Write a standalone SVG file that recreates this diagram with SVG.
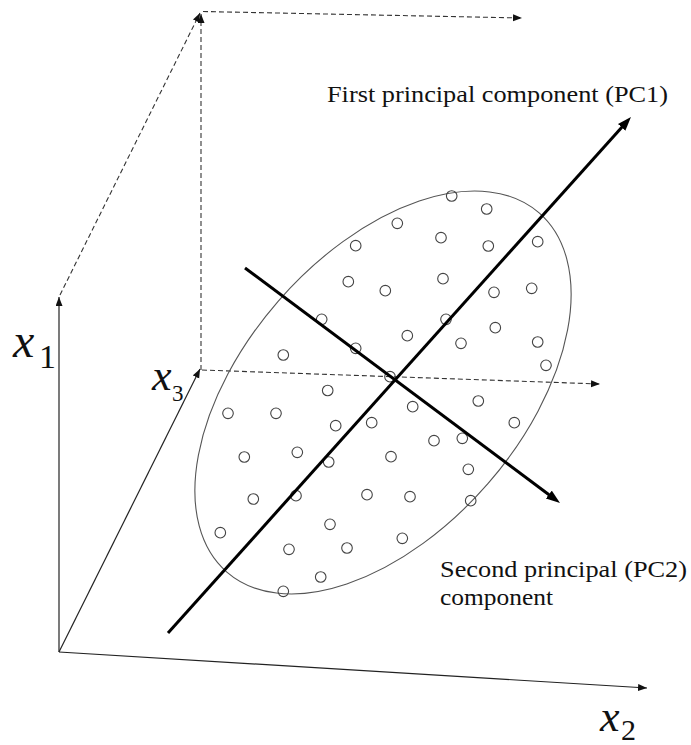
<svg xmlns="http://www.w3.org/2000/svg" width="691" height="745" viewBox="0 0 691 745">
<style>
.axis{stroke:#222;stroke-width:1.2;fill:none}
.dash{stroke:#333;stroke-width:1.1;fill:none;stroke-dasharray:5 3}
.pc{stroke:#000;stroke-width:3;fill:none}
.pt{stroke:#444;stroke-width:1.1;fill:none}
.ell{stroke:#555;stroke-width:1.1;fill:none}
text{font-family:'Liberation Serif','Times New Roman',Times,serif;fill:#111}
.lbl{font-size:22.5px}
.var{font-style:italic}
</style>
<defs>
<marker id="ah" markerUnits="userSpaceOnUse" markerWidth="10" markerHeight="8" refX="9" refY="3.5" orient="auto"><path d="M0,0 L9,3.5 L0,7 z" fill="#111"/></marker>
<marker id="big" markerUnits="userSpaceOnUse" markerWidth="16" markerHeight="12" refX="4" refY="5" orient="auto"><path d="M0,0 L14,5 L0,10 z" fill="#000"/></marker>
</defs>
<rect width="691" height="745" fill="#fff"/>
<g id="connectors">
<line id="axis-x1" class="axis" x1="59" y1="652" x2="59" y2="297" marker-end="url(#ah)"/>
<line id="axis-x2" class="axis" x1="59" y1="652" x2="647" y2="688" marker-end="url(#ah)"/>
<line id="axis-x3" class="axis" x1="59" y1="652" x2="200" y2="369" marker-end="url(#ah)"/>
<line class="dash" x1="60" y1="295" x2="200" y2="13" marker-end="url(#ah)"/>
<line class="dash" x1="201" y1="370" x2="201" y2="14" marker-end="url(#ah)"/>
<line class="dash" x1="203" y1="11.5" x2="522" y2="18" marker-end="url(#ah)"/>
<line class="dash" x1="202" y1="370" x2="600" y2="384" marker-end="url(#ah)"/>
</g>
<g id="cluster">
<ellipse class="ell" cx="383" cy="392.5" rx="238" ry="139" transform="rotate(-49 383 392.5)"/>
<g id="points">
<circle class="pt" cx="355.7" cy="245.7" r="5.3"/>
<circle class="pt" cx="348.3" cy="281.7" r="5.3"/>
<circle class="pt" cx="321.7" cy="319.3" r="5.3"/>
<circle class="pt" cx="355.7" cy="348.3" r="5.3"/>
<circle class="pt" cx="283.3" cy="355" r="5.3"/>
<circle class="pt" cx="327.7" cy="390.5" r="5.3"/>
<circle class="pt" cx="451.7" cy="196" r="5.3"/>
<circle class="pt" cx="486.7" cy="209" r="5.3"/>
<circle class="pt" cx="397.3" cy="223.3" r="5.3"/>
<circle class="pt" cx="441" cy="237.7" r="5.3"/>
<circle class="pt" cx="488.3" cy="246" r="5.3"/>
<circle class="pt" cx="537.7" cy="241.7" r="5.3"/>
<circle class="pt" cx="443" cy="278.7" r="5.3"/>
<circle class="pt" cx="385.3" cy="290.7" r="5.3"/>
<circle class="pt" cx="494" cy="292.3" r="5.3"/>
<circle class="pt" cx="531.7" cy="288.3" r="5.3"/>
<circle class="pt" cx="446" cy="319.3" r="5.3"/>
<circle class="pt" cx="407.3" cy="335.7" r="5.3"/>
<circle class="pt" cx="495.3" cy="327.7" r="5.3"/>
<circle class="pt" cx="461" cy="343.3" r="5.3"/>
<circle class="pt" cx="537.7" cy="342" r="5.3"/>
<circle class="pt" cx="546" cy="365.3" r="5.3"/>
<circle class="pt" cx="390" cy="376.7" r="5.3"/>
<circle class="pt" cx="228" cy="413.3" r="5.3"/>
<circle class="pt" cx="276" cy="413.3" r="5.3"/>
<circle class="pt" cx="335.7" cy="425.7" r="5.3"/>
<circle class="pt" cx="371.7" cy="422.7" r="5.3"/>
<circle class="pt" cx="244.3" cy="457" r="5.3"/>
<circle class="pt" cx="297.3" cy="452.3" r="5.3"/>
<circle class="pt" cx="328.7" cy="462" r="5.3"/>
<circle class="pt" cx="253.3" cy="499" r="5.3"/>
<circle class="pt" cx="296" cy="495.7" r="5.3"/>
<circle class="pt" cx="367" cy="494.7" r="5.3"/>
<circle class="pt" cx="220.3" cy="532.7" r="5.3"/>
<circle class="pt" cx="330" cy="524.3" r="5.3"/>
<circle class="pt" cx="289" cy="549.3" r="5.3"/>
<circle class="pt" cx="347" cy="548" r="5.3"/>
<circle class="pt" cx="320.7" cy="577" r="5.3"/>
<circle class="pt" cx="283.3" cy="591.3" r="5.3"/>
<circle class="pt" cx="412.7" cy="406.7" r="5.3"/>
<circle class="pt" cx="478.3" cy="401" r="5.3"/>
<circle class="pt" cx="514.3" cy="422.7" r="5.3"/>
<circle class="pt" cx="434" cy="440.7" r="5.3"/>
<circle class="pt" cx="462.3" cy="438.3" r="5.3"/>
<circle class="pt" cx="391" cy="456.7" r="5.3"/>
<circle class="pt" cx="468.3" cy="469.3" r="5.3"/>
<circle class="pt" cx="410" cy="496.7" r="5.3"/>
<circle class="pt" cx="470.7" cy="500.7" r="5.3"/>
<circle class="pt" cx="402.3" cy="538.3" r="5.3"/>
</g>
</g>
<g id="pc-lines">
<line id="pc1" class="pc" x1="168" y1="633" x2="624.3" y2="124.4" marker-end="url(#big)"/>
<line id="pc2" class="pc" x1="245" y1="268" x2="552" y2="497" marker-end="url(#big)"/>
</g>
<g id="labels">
<text id="pc1-label" class="lbl" x="327" y="102" textLength="341" lengthAdjust="spacingAndGlyphs">First principal component (PC1)</text>
<text id="pc2-label1" class="lbl" x="440" y="577" textLength="247" lengthAdjust="spacingAndGlyphs">Second principal (PC2)</text>
<text id="pc2-label2" class="lbl" x="440" y="605" textLength="113" lengthAdjust="spacingAndGlyphs">component</text>
<g id="label-x1"><text class="var" x="13" y="357" font-size="48">x</text><text x="39" y="368" font-size="34">1</text></g>
<g id="label-x3"><text class="var" x="152" y="390" font-size="44">x</text><text x="172" y="401" font-size="23">3</text></g>
<g id="label-x2"><text class="var" x="600" y="731" font-size="44">x</text><text x="621" y="740" font-size="30">2</text></g>
</g>
</svg>
